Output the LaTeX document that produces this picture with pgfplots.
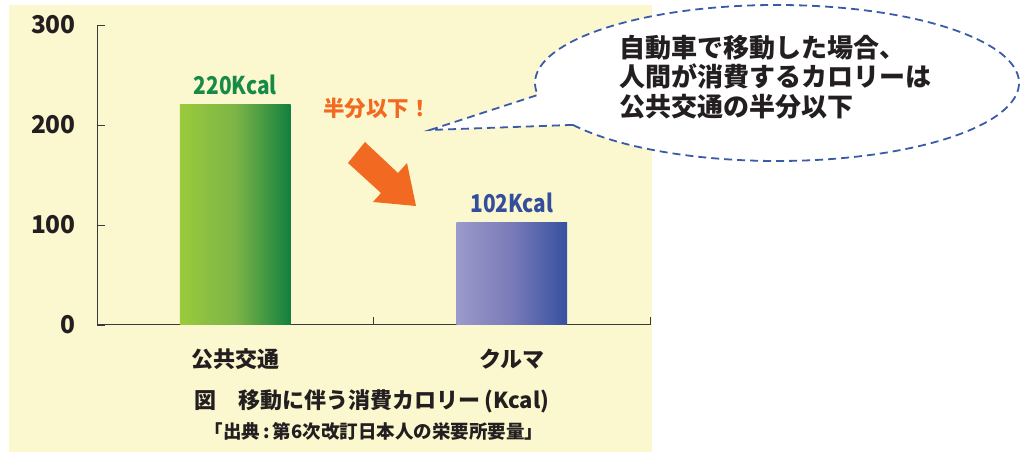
\documentclass[border=0pt]{standalone}
\usepackage{fontspec}
\setmainfont{Noto Sans CJK JP}
\usepackage{pgfplots}
\pgfplotsset{compat=1.18}
\definecolor{bgyellow}{HTML}{FBF7CE}
\definecolor{axisgray}{HTML}{3A3A3A}
\definecolor{txt}{HTML}{231F20}
\definecolor{gA}{HTML}{9ACA3C}
\definecolor{gB}{HTML}{7DB446}
\definecolor{gC}{HTML}{12803F}
\definecolor{bA}{HTML}{9A9ACB}
\definecolor{bB}{HTML}{7A7AB8}
\definecolor{bC}{HTML}{3551A0}
\definecolor{glab}{HTML}{178A48}
\definecolor{blab}{HTML}{344E9C}
\definecolor{orng}{HTML}{F26A21}
\definecolor{bubble}{HTML}{3A5BA8}
\begin{document}
\begin{tikzpicture}[x=1pt,y=1pt]
\fill[white] (0,0) rectangle (1027,454);
\fill[bgyellow] (9,2) rectangle (652,449);
\begin{axis}[
  at={(97pt,129pt)}, anchor=south west,
  scale only axis, width=553pt, height=300pt,
  xmin=0, xmax=2, ymin=0, ymax=300,
  axis x line*=bottom, axis y line*=left,
  axis line style={color=axisgray, line width=1pt},
  tick align=inside,
  major tick length=8pt,
  tick style={color=axisgray, line width=0.8pt},
  ytick={0,100,200,300}, yticklabels={0,100,200,300},
  yticklabel style={anchor=east, inner sep=0pt, xshift=-21pt, text=txt, font=\bfseries\fontsize{24.5}{28}\selectfont},
  xtick={1,2}, xticklabels={,},
  extra x ticks={0.5,1.5}, extra x tick labels={公共交通,クルマ},
  extra x tick style={major tick length=0pt, xticklabel style={anchor=center, inner sep=0pt, yshift=-34pt, text=txt, font=\bfseries\fontsize{22}{25}\selectfont}},
  clip=false,
]
\addplot[ybar, bar width=0.4, bar shift=0pt, draw=none, left color=gA, right color=gC, middle color=gB] coordinates {(0.5,220)};
\addplot[ybar, bar width=0.4, bar shift=0pt, draw=none, left color=bA, right color=bC, middle color=bB] coordinates {(1.5,102)};
\addplot[draw=none, nodes near coords={\scalebox{0.85}[1]{\pgfplotspointmeta}}, point meta=explicit symbolic,
  every node near coord/.style={anchor=south, inner sep=0pt, yshift=10pt, text=glab, font=\bfseries\fontsize{24.5}{28}\selectfont}]
  coordinates {(0.5,220)[220Kcal]};
\addplot[draw=none, nodes near coords={\scalebox{0.85}[1]{\pgfplotspointmeta}}, point meta=explicit symbolic,
  every node near coord/.style={anchor=south, inner sep=0pt, yshift=10pt, text=blab, font=\bfseries\fontsize{24.5}{28}\selectfont}]
  coordinates {(1.5,102)[102Kcal]};
\end{axis}
% arrow
\fill[orng] (365,312) -- (398,281) -- (407,291) -- (416,248) -- (373,252) -- (381,261) -- (348,291) -- cycle;
\node[anchor=center, inner sep=0pt, text=orng, font=\bfseries\fontsize{21.5}{25}\selectfont] at (377,346) {半分以下！};
% bubble
\filldraw[fill=white, draw=bubble, line width=1.8pt, dash pattern=on 8pt off 5pt]
  (777,371) ++(212.5:242 and 78) arc[start angle=212.5, end angle=548.8, x radius=242, y radius=78]
  -- (430,324) -- cycle;
\node[anchor=west, align=left, inner sep=0pt, text=txt, font=\bfseries\fontsize{26}{29.5}\selectfont] at (619,377)
  {自動車で移動した場合、\\人間が消費するカロリーは\\公共交通の半分以下};
% titles
\node[inner sep=0pt, text=txt, font=\bfseries\fontsize{22}{26}\selectfont] at (372,53) {図　移動に伴う消費カロリー\,(Kcal)};
\node[inner sep=0pt, text=txt, font=\bfseries\fontsize{18.5}{21}\selectfont] at (374,23) {「出典\,:\,第6次改訂日本人の栄要所要量」};
\pgfresetboundingbox
\path[use as bounding box] (0,0) rectangle (1027,454);
\end{tikzpicture}
\end{document}
